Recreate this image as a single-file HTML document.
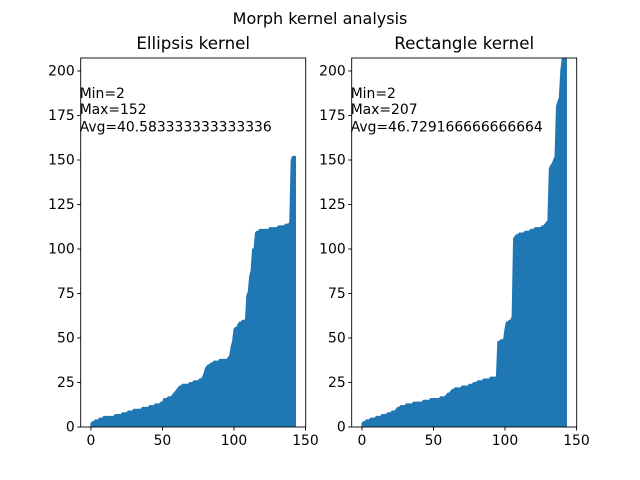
<!DOCTYPE html>
<html><head><meta charset="utf-8"><style>
html,body{margin:0;padding:0;background:#fff;}
svg{display:block;font-family:"DejaVu Sans","Liberation Sans",sans-serif;}
</style></head><body>
<svg id="fig" width="640" height="480" viewBox="0 0 640 480">
<text x="320" y="24" text-anchor="middle" font-size="16">Morph kernel analysis</text>
</svg>
<script>
const ellipsisValues=[2,3,3,4,4,4,5,5,5,6,6,6,6,6,6,6,6,7,7,7,7,7,8,8,8,8,9,9,9,9,10,10,10,10,10,10,11,11,11,11,11,12,12,12,12,13,13,13,13,14,14,16,16,16,17,17,17,18,19,20,21,22,23,23,24,24,24,24,24,25,25,25,26,26,26,26,27,27,28,30,33,34,35,35,36,36,37,37,37,37,38,38,38,38,38,38,39,40,45,48,55,56,56,58,59,59,60,60,60,74,76,85,88,100,100,109,110,110,111,111,111,111,111,111,111,112,112,112,112,112,112,113,113,113,113,113,114,114,114,115,150,152,152,152];
const rectValues=[2,3,3,4,4,4,5,5,5,5,6,6,6,6,7,7,7,7,8,8,8,9,9,9,10,11,11,12,12,12,12,13,13,13,13,13,14,14,14,14,14,14,14,15,15,15,15,15,16,16,16,16,16,16,16,17,17,17,17,18,19,19,20,21,21,22,22,22,22,22,23,23,23,23,23,24,24,24,25,25,25,26,26,26,26,27,27,27,27,27,28,28,28,28,28,48,48,49,49,49,55,59,59,60,60,62,106,107,108,108,109,109,109,109,110,110,110,110,111,111,111,112,112,112,112,112,113,113,114,115,116,145,147,148,150,152,180,183,185,200,207,207,207,207];
const yTicks=[0,25,50,75,100,125,150,175,200];
const xTicks=[0,50,100,150];
const titles=["Ellipsis kernel","Rectangle kernel"];
const statLabels=[["Min=2","Max=152","Avg=40.583333333333336"],["Min=2","Max=207","Avg=46.729166666666664"]];
const NS="http://www.w3.org/2000/svg";
const svg=document.getElementById('fig');
function mk(tag,attrs,parent){const e=document.createElementNS(NS,tag);for(const k in attrs)e.setAttribute(k,attrs[k]);(parent||svg).appendChild(e);return e;}
const axesLeft=[80.7,351.7],axW=225,axTop=58,axBot=427;
const yMin=0,yMax=207.3;
function drawAxes(idx,vals){
  const L=axesLeft[idx];
  const n=vals.length, xlo=-0.05*(n-1), xhi=(n-1)*1.05;
  const X=v=>L+(v-xlo)/(xhi-xlo)*axW;
  const Y=v=>axBot-(v-yMin)/(yMax-yMin)*(axBot-axTop);
  const g=mk('g',{});
  
  
  let d='M'+X(0)+','+Y(0);
  vals.forEach((v,i)=>{d+=' L'+X(i)+','+Y(v);});
  d+=' L'+X(n-1)+','+Y(0)+' Z';
  const cp=mk('clipPath',{id:'clip'+idx},g);
  mk('rect',{x:L,y:axTop,width:axW,height:axBot-axTop},cp);
  const area=mk('path',{d:d,fill:'#1f77b4',stroke:'#1f77b4','stroke-width':1,'clip-path':'url(#clip'+idx+')'},g);
  
  
  const fr=mk('rect',{x:L,y:axTop,width:axW,height:axBot-axTop,fill:'none',stroke:'#000','stroke-width':0.9},g);
  
  
  yTicks.forEach(t=>{
    const y=Y(t);
    mk('line',{x1:L-3.5,x2:L,y1:y,y2:y,stroke:'#000','stroke-width':0.9},g);
    const tx=mk('text',{x:L-6,y:y+4.5,'text-anchor':'end','font-size':13.9},g);
    tx.textContent=t;
    
    
  });
  xTicks.forEach(t=>{
    const x=X(t);
    mk('line',{x1:x,x2:x,y1:axBot,y2:axBot+3.5,stroke:'#000','stroke-width':0.9},g);
    const tx=mk('text',{x:x,y:axBot+18,'text-anchor':'middle','font-size':13.9},g);
    tx.textContent=t;
    
    
  });
  const ti=mk('text',{x:L+axW/2,y:49,'text-anchor':'middle','font-size':16.7},g);
  ti.textContent=titles[idx];
  
  
  const bases=[98,114,131.5];
  statLabels[idx].forEach((s,k)=>{
    const t=mk('text',{x:L-1,y:bases[k],'font-size':13.9},g);
    t.textContent=s;
    
    
  });
}
drawAxes(0,ellipsisValues);
drawAxes(1,rectValues);
</script>
</body></html>
